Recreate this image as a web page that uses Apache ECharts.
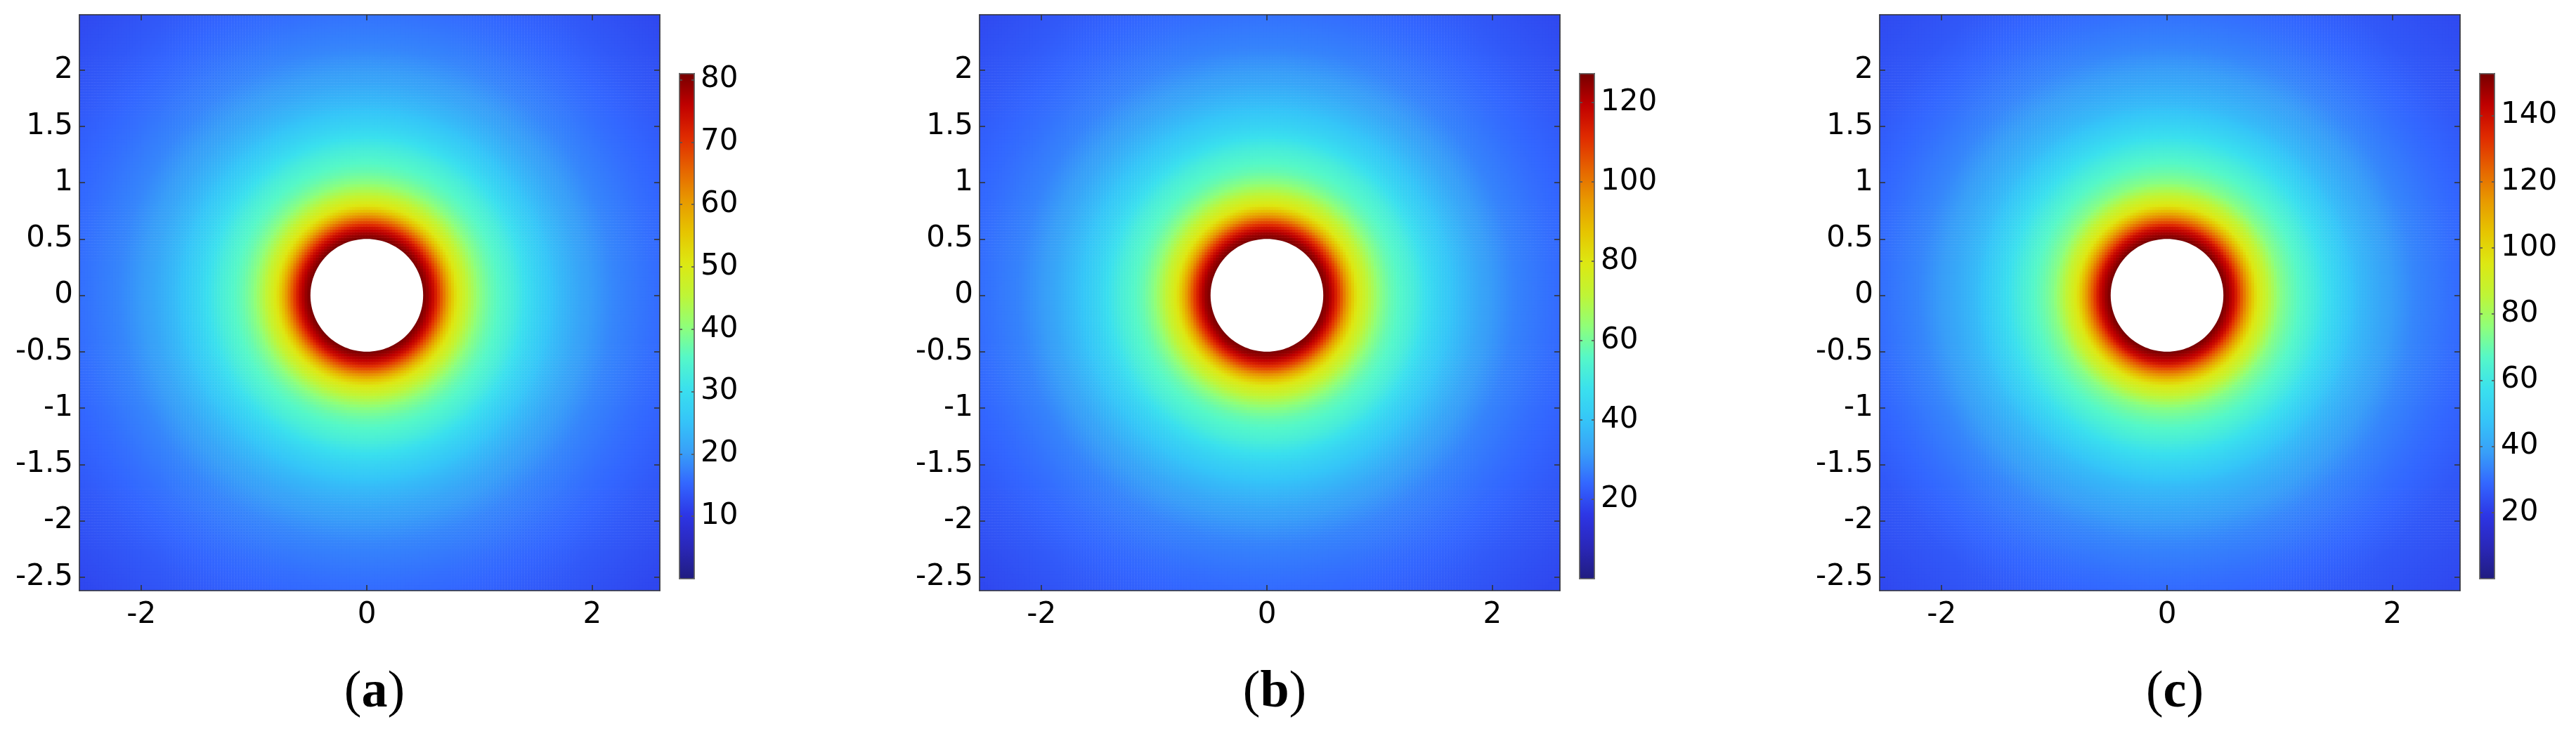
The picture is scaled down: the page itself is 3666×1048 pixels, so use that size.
<!DOCTYPE html>
<html>
<head>
<meta charset="utf-8">
<script src="https://cdn.jsdelivr.net/npm/echarts@6/dist/echarts.min.js"></script>
<style>
html,body{margin:0;padding:0;background:#ffffff;}
#main{width:3666px;height:1048px;}
</style>
</head>
<body>
<div id="main"></div>
<script>
// ---------------- data ----------------
const panelLabels = ['a', 'b', 'c'];
const xTicks = [-2, 0, 2];
const yTicks = [-2.5, -2, -1.5, -1, -0.5, 0, 0.5, 1, 1.5, 2];
const xRange = [-2.55, 2.6];
const yRange = [-2.62, 2.49];
const holes = [[0, 0, 0.5]];               // centre x, centre y, radius
// radial profile of the plotted field (distance from hole centre -> value)
const profileRadius = [0.5, 0.55, 0.6, 0.65, 0.7, 0.75, 0.8, 0.9, 1.0, 1.1, 1.3, 1.5, 1.7, 1.9, 2.2, 2.55, 3.0, 3.6];
const profileA = [81, 78, 74, 68, 62, 56, 51, 45, 40, 37, 33, 28, 24, 21, 18, 16, 14, 12];
const profileB = [127, 123, 116, 107, 97, 88, 80, 71, 63, 58, 52, 44, 38, 33, 28, 25, 22, 19];
const profileC = [153, 147, 140, 128, 117, 106, 96, 85, 75, 70, 62, 53, 45, 40, 34, 30, 26, 23];
const colorbarMin = [0, 0, 0];
const colorbarMax = [81, 127.3, 152.7];
const colorbarTicksA = [10, 20, 30, 40, 50, 60, 70, 80];
const colorbarTicksB = [20, 40, 60, 80, 100, 120];
const colorbarTicksC = [20, 40, 60, 80, 100, 120, 140];

// ---------------- layout / style ----------------
const profiles = [profileA, profileB, profileC];
const cbTicks = [colorbarTicksA, colorbarTicksB, colorbarTicksC];
const panelLeft = [113, 1394, 2675];
const PLOT_TOP = 21, PLOT_W = 826, PLOT_H = 820;
const CB_DX = 854, CB_TOP = 104.6, CB_W = 21, CB_H = 719.4;
const NX = 206, NY = 204;   // raster resolution of the field
const FONT = 'DejaVu Sans';
const rainbow = ['#201c80', '#2a27b8', '#2d35e5', '#3366ff', '#389ff8', '#35c5f8', '#3ae0ee', '#55f8c8',
  '#90ff78', '#c0f535', '#dde812', '#e6c400', '#e89800', '#e66200', '#e02a00', '#c00000', '#760000'];

function fieldAt(prof, r) {
  if (r <= profileRadius[0]) return prof[0];
  const n = profileRadius.length;
  if (r >= profileRadius[n - 1]) return prof[n - 1];
  for (let k = 1; k < n; k++) {
    if (r <= profileRadius[k]) {
      const t = (r - profileRadius[k - 1]) / (profileRadius[k] - profileRadius[k - 1]);
      return prof[k - 1] + t * (prof[k] - prof[k - 1]);
    }
  }
  return prof[n - 1];
}

const xCats = [], yCats = [];
const dx = (xRange[1] - xRange[0]) / NX, dy = (yRange[1] - yRange[0]) / NY;
for (let i = 0; i < NX; i++) xCats.push((xRange[0] + (i + 0.5) * dx).toFixed(4));
for (let j = 0; j < NY; j++) yCats.push((yRange[0] + (j + 0.5) * dy).toFixed(4));

const grid = [], xAxis = [], yAxis = [], series = [], visualMap = [], title = [];
const lineStyle = {color: '#333333', width: 1.6};
const cbLineStyle = {color: '#555555', width: 1.6};

for (let p = 0; p < 3; p++) {
  const L = panelLeft[p];
  const g0 = 3 * p;
  grid.push({left: L, top: PLOT_TOP, width: PLOT_W, height: PLOT_H});           // field raster
  grid.push({left: L, top: PLOT_TOP, width: PLOT_W, height: PLOT_H});           // frame
  grid.push({left: L + CB_DX, top: CB_TOP, width: CB_W, height: CB_H});         // colour bar
  const xb = 5 * p, yb = 5 * p;

  xAxis.push({type: 'category', gridIndex: g0, data: xCats, show: false, boundaryGap: true});
  xAxis.push({type: 'value', gridIndex: g0 + 1, position: 'bottom', min: xRange[0], max: xRange[1], z: 10,
    axisLine: {show: true, onZero: false, lineStyle},
    axisTick: {show: true, inside: true, length: 8, customValues: xTicks, lineStyle},
    axisLabel: {show: true, customValues: xTicks, margin: 14, fontFamily: FONT, fontSize: 42, color: '#000',
      formatter: v => String(v)},
    splitLine: {show: false}});
  xAxis.push({type: 'value', gridIndex: g0 + 1, position: 'top', min: xRange[0], max: xRange[1], z: 10,
    axisLine: {show: true, onZero: false, lineStyle},
    axisTick: {show: true, inside: true, length: 8, customValues: xTicks, lineStyle},
    axisLabel: {show: false}, splitLine: {show: false}});
  xAxis.push({type: 'value', gridIndex: g0 + 2, position: 'bottom', min: 0, max: 1, z: 10,
    axisLine: {show: true, onZero: false, lineStyle: cbLineStyle}, axisTick: {show: false},
    axisLabel: {show: false}, splitLine: {show: false}});
  xAxis.push({type: 'value', gridIndex: g0 + 2, position: 'top', min: 0, max: 1, z: 10,
    axisLine: {show: true, onZero: false, lineStyle: cbLineStyle}, axisTick: {show: false},
    axisLabel: {show: false}, splitLine: {show: false}});

  yAxis.push({type: 'category', gridIndex: g0, data: yCats, show: false, boundaryGap: true});
  yAxis.push({type: 'value', gridIndex: g0 + 1, position: 'left', min: yRange[0], max: yRange[1], z: 10,
    axisLine: {show: true, onZero: false, lineStyle},
    axisTick: {show: true, inside: true, length: 8, customValues: yTicks, lineStyle},
    axisLabel: {show: true, customValues: yTicks, margin: 9, fontFamily: FONT, fontSize: 42, color: '#000',
      formatter: v => String(v)},
    splitLine: {show: false}});
  yAxis.push({type: 'value', gridIndex: g0 + 1, position: 'right', min: yRange[0], max: yRange[1], z: 10,
    axisLine: {show: true, onZero: false, lineStyle},
    axisTick: {show: true, inside: true, length: 8, customValues: yTicks, lineStyle},
    axisLabel: {show: false}, splitLine: {show: false}});
  yAxis.push({type: 'value', gridIndex: g0 + 2, position: 'left', min: colorbarMin[p], max: colorbarMax[p], z: 10,
    axisLine: {show: true, onZero: false, lineStyle: cbLineStyle},
    axisTick: {show: true, inside: true, length: 4, customValues: cbTicks[p], lineStyle: cbLineStyle},
    axisLabel: {show: false}, splitLine: {show: false}});
  yAxis.push({type: 'value', gridIndex: g0 + 2, position: 'right', min: colorbarMin[p], max: colorbarMax[p], z: 10,
    axisLine: {show: true, onZero: false, lineStyle: cbLineStyle},
    axisTick: {show: true, inside: true, length: 4, customValues: cbTicks[p], lineStyle: cbLineStyle},
    axisLabel: {show: true, customValues: cbTicks[p], margin: 9, fontFamily: FONT, fontSize: 42, color: '#000',
      formatter: v => String(v)},
    splitLine: {show: false}});

  const prof = profiles[p];
  const data = [];
  for (let i = 0; i < NX; i++) {
    const x = xRange[0] + (i + 0.5) * dx;
    for (let j = 0; j < NY; j++) {
      const y = yRange[0] + (j + 0.5) * dy;
      data.push([i, j, +fieldAt(prof, Math.sqrt(x * x + y * y)).toFixed(2)]);
    }
  }
  series.push({type: 'heatmap', xAxisIndex: xb, yAxisIndex: yb, data, progressive: 0, z: 2,
    silent: true, emphasis: {disabled: true}, itemStyle: {borderWidth: 0}});
  series.push({type: 'custom', xAxisIndex: xb + 1, yAxisIndex: yb + 1, data: holes, z: 3, silent: true,
    renderItem: (params, api) => {
      const c = api.coord([api.value(0), api.value(1)]);
      const s = api.size([api.value(2), api.value(2)]);
      return {type: 'ellipse', shape: {cx: c[0], cy: c[1], rx: s[0], ry: s[1]}, style: {fill: '#ffffff'}};
    }});

  visualMap.push({type: 'continuous', seriesIndex: 2 * p, dimension: 2, min: colorbarMin[p], max: colorbarMax[p],
    calculable: false, realtime: false, hoverLink: false, text: ['', ''], padding: 0, borderWidth: 0,
    orient: 'vertical', left: L + CB_DX, top: CB_TOP, itemWidth: CB_W, itemHeight: CB_H,
    inRange: {color: rainbow}});

  title.push({text: '{p|(}{b|' + panelLabels[p] + '}{p|)}', left: L + PLOT_W / 2 + 7, top: 950,
    textAlign: 'center', padding: 0,
    textStyle: {rich: {
      p: {fontFamily: 'Liberation Serif', fontSize: 74, fontWeight: 'normal', color: '#000'},
      b: {fontFamily: 'Liberation Serif', fontSize: 74, fontWeight: 'bold', color: '#000'}}}});
}

const chart = echarts.init(document.getElementById('main'), null, {renderer: 'canvas'});
chart.setOption({animation: false, backgroundColor: '#ffffff', title, grid, xAxis, yAxis, visualMap, series});
</script>
</body>
</html>
